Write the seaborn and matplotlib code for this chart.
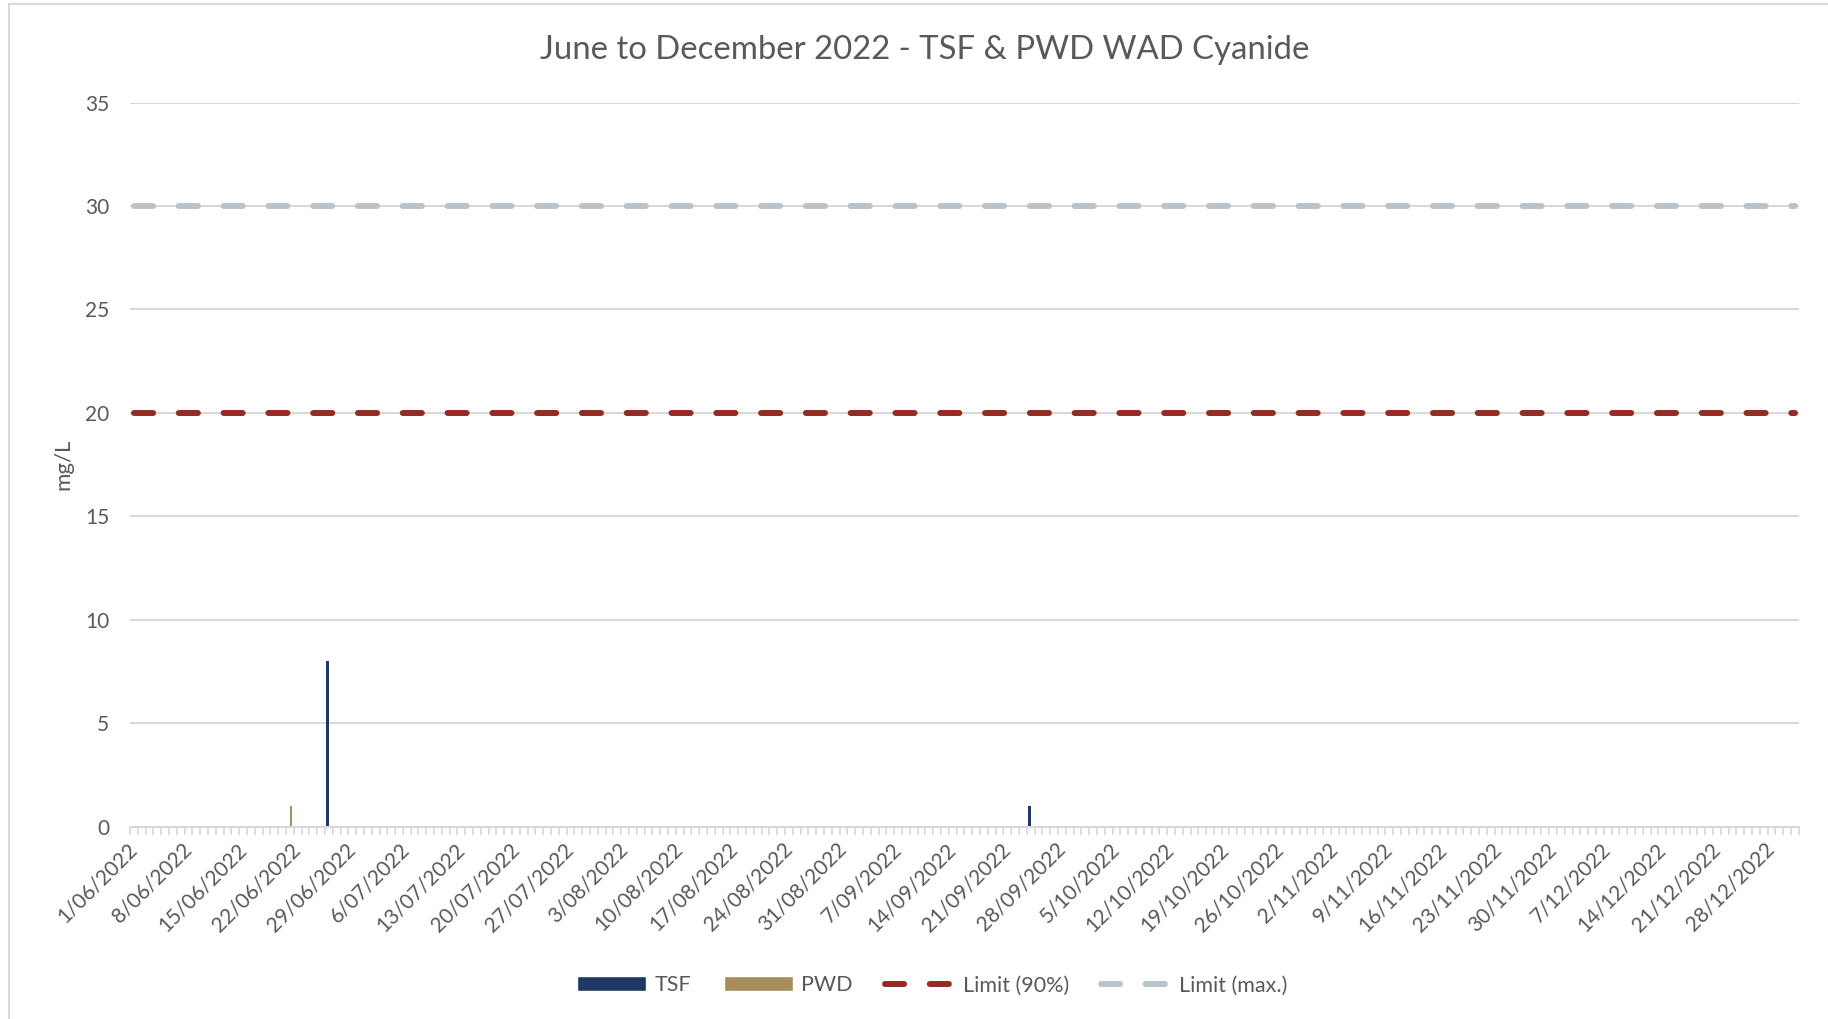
import pandas as pd
import numpy as np
import matplotlib
matplotlib.use("Agg")
import matplotlib.pyplot as plt
from matplotlib.patches import Patch, Rectangle
from matplotlib.lines import Line2D
import seaborn as sns

# daily category axis, 1 June to 31 December 2022
days = pd.date_range("2022-06-01", "2022-12-31", freq="D")
day_labels = [f"{d.day}/{d.month:02d}/{d.year}" for d in days]

# WAD cyanide readings (mg/L), only non-empty days
tsf_dates = ["2022-06-26", "2022-09-24"]
tsf_values = [8, 1]
pwd_dates = ["2022-06-21"]
pwd_values = [1]

limit_90 = 20
limit_max = 30

TSF_COLOR = "#1F3864"
PWD_COLOR = "#A68D5C"
L90_COLOR = "#962B22"
LMAX_COLOR = "#B9C3C9"
TEXT = "#595959"
GRID = "#D9D9D9"


def to_label(s):
    d = pd.Timestamp(s)
    return f"{d.day}/{d.month:02d}/{d.year}"


readings = pd.concat([
    pd.DataFrame({"date": [to_label(d) for d in tsf_dates], "value": tsf_values, "site": "TSF"}),
    pd.DataFrame({"date": [to_label(d) for d in pwd_dates], "value": pwd_values, "site": "PWD"}),
])

sns.set_theme(style="white")
plt.rcParams["font.family"] = ["Lato", "DejaVu Sans"]

fig = plt.figure(figsize=(18.28, 10.19), dpi=100)
ax = fig.add_axes([0.0711, 0.1888, 0.9129, 0.7105])

sns.barplot(data=readings, x="date", y="value", hue="site", order=day_labels,
            hue_order=["TSF", "PWD"], palette=[TSF_COLOR, PWD_COLOR],
            width=0.65, dodge=True, legend=False, ax=ax, saturation=1,
            linewidth=0)

pos = np.arange(len(days))
limits = pd.DataFrame({"pos": pos, "l90": [limit_90] * len(days), "lmax": [limit_max] * len(days)})
sns.lineplot(data=limits, x="pos", y="lmax", color=LMAX_COLOR, lw=4.3,
             linestyle=(0, (3.2, 4.3)), dash_capstyle="round", ax=ax, zorder=3)
sns.lineplot(data=limits, x="pos", y="l90", color=L90_COLOR, lw=4.3,
             linestyle=(0, (3.2, 4.3)), dash_capstyle="round", ax=ax, zorder=3)

ax.set_xlim(-0.5, len(days) - 0.5)
ax.set_ylim(0, 35)
ax.set_yticks(range(0, 36, 5))
ax.yaxis.grid(True, color=GRID, lw=1.5)
ax.set_axisbelow(True)

ax.set_xticks(pos[::7])
ax.set_xticklabels(day_labels[::7], rotation=45, ha="right", va="center",
                   rotation_mode="anchor", fontsize=15, color=TEXT)
ax.set_xticks(np.arange(-0.5, len(days), 1.0), minor=True)
ax.tick_params(axis="x", which="major", length=0, pad=14)
ax.tick_params(axis="x", which="minor", length=6, width=1.3, color=GRID, bottom=True)
ax.tick_params(axis="y", length=0, pad=15, labelsize=15, labelcolor=TEXT)

for s in ["top", "right", "left"]:
    ax.spines[s].set_visible(False)
ax.spines["bottom"].set_color(GRID)
ax.spines["bottom"].set_linewidth(1.5)

ax.set_xlabel("")
ax.set_ylabel("mg/L", fontsize=16, color=TEXT)
ax.yaxis.set_label_coords(-0.034, 0.5)

fig.text(0.506, 0.951, "June to December 2022 - TSF & PWD WAD Cyanide",
         ha="center", va="center", fontsize=23.7, color=TEXT)

handles = [
    Patch(facecolor=TSF_COLOR, label="TSF"),
    Patch(facecolor=PWD_COLOR, label="PWD"),
    Line2D([], [], color=L90_COLOR, lw=4.3, linestyle=(0, (3.2, 4.3)), dash_capstyle="round", label="Limit (90%)"),
    Line2D([], [], color=LMAX_COLOR, lw=4.3, linestyle=(0, (3.2, 4.3)), dash_capstyle="round", label="Limit (max.)"),
]
fig.legend(handles=handles, loc="center", bbox_to_anchor=(0.51, 0.033), ncol=4,
           frameon=False, fontsize=15.5, labelcolor=TEXT, handlelength=3.2,
           handleheight=0.7, columnspacing=1.5, handletextpad=0.4)

fig.patches.append(Rectangle((9 / 1828, -0.01), 1.0, 1 - 4 / 1019 + 0.01,
                             transform=fig.transFigure, fill=False,
                             edgecolor=GRID, lw=1.5))

fig.savefig("out.png", dpi=100)
